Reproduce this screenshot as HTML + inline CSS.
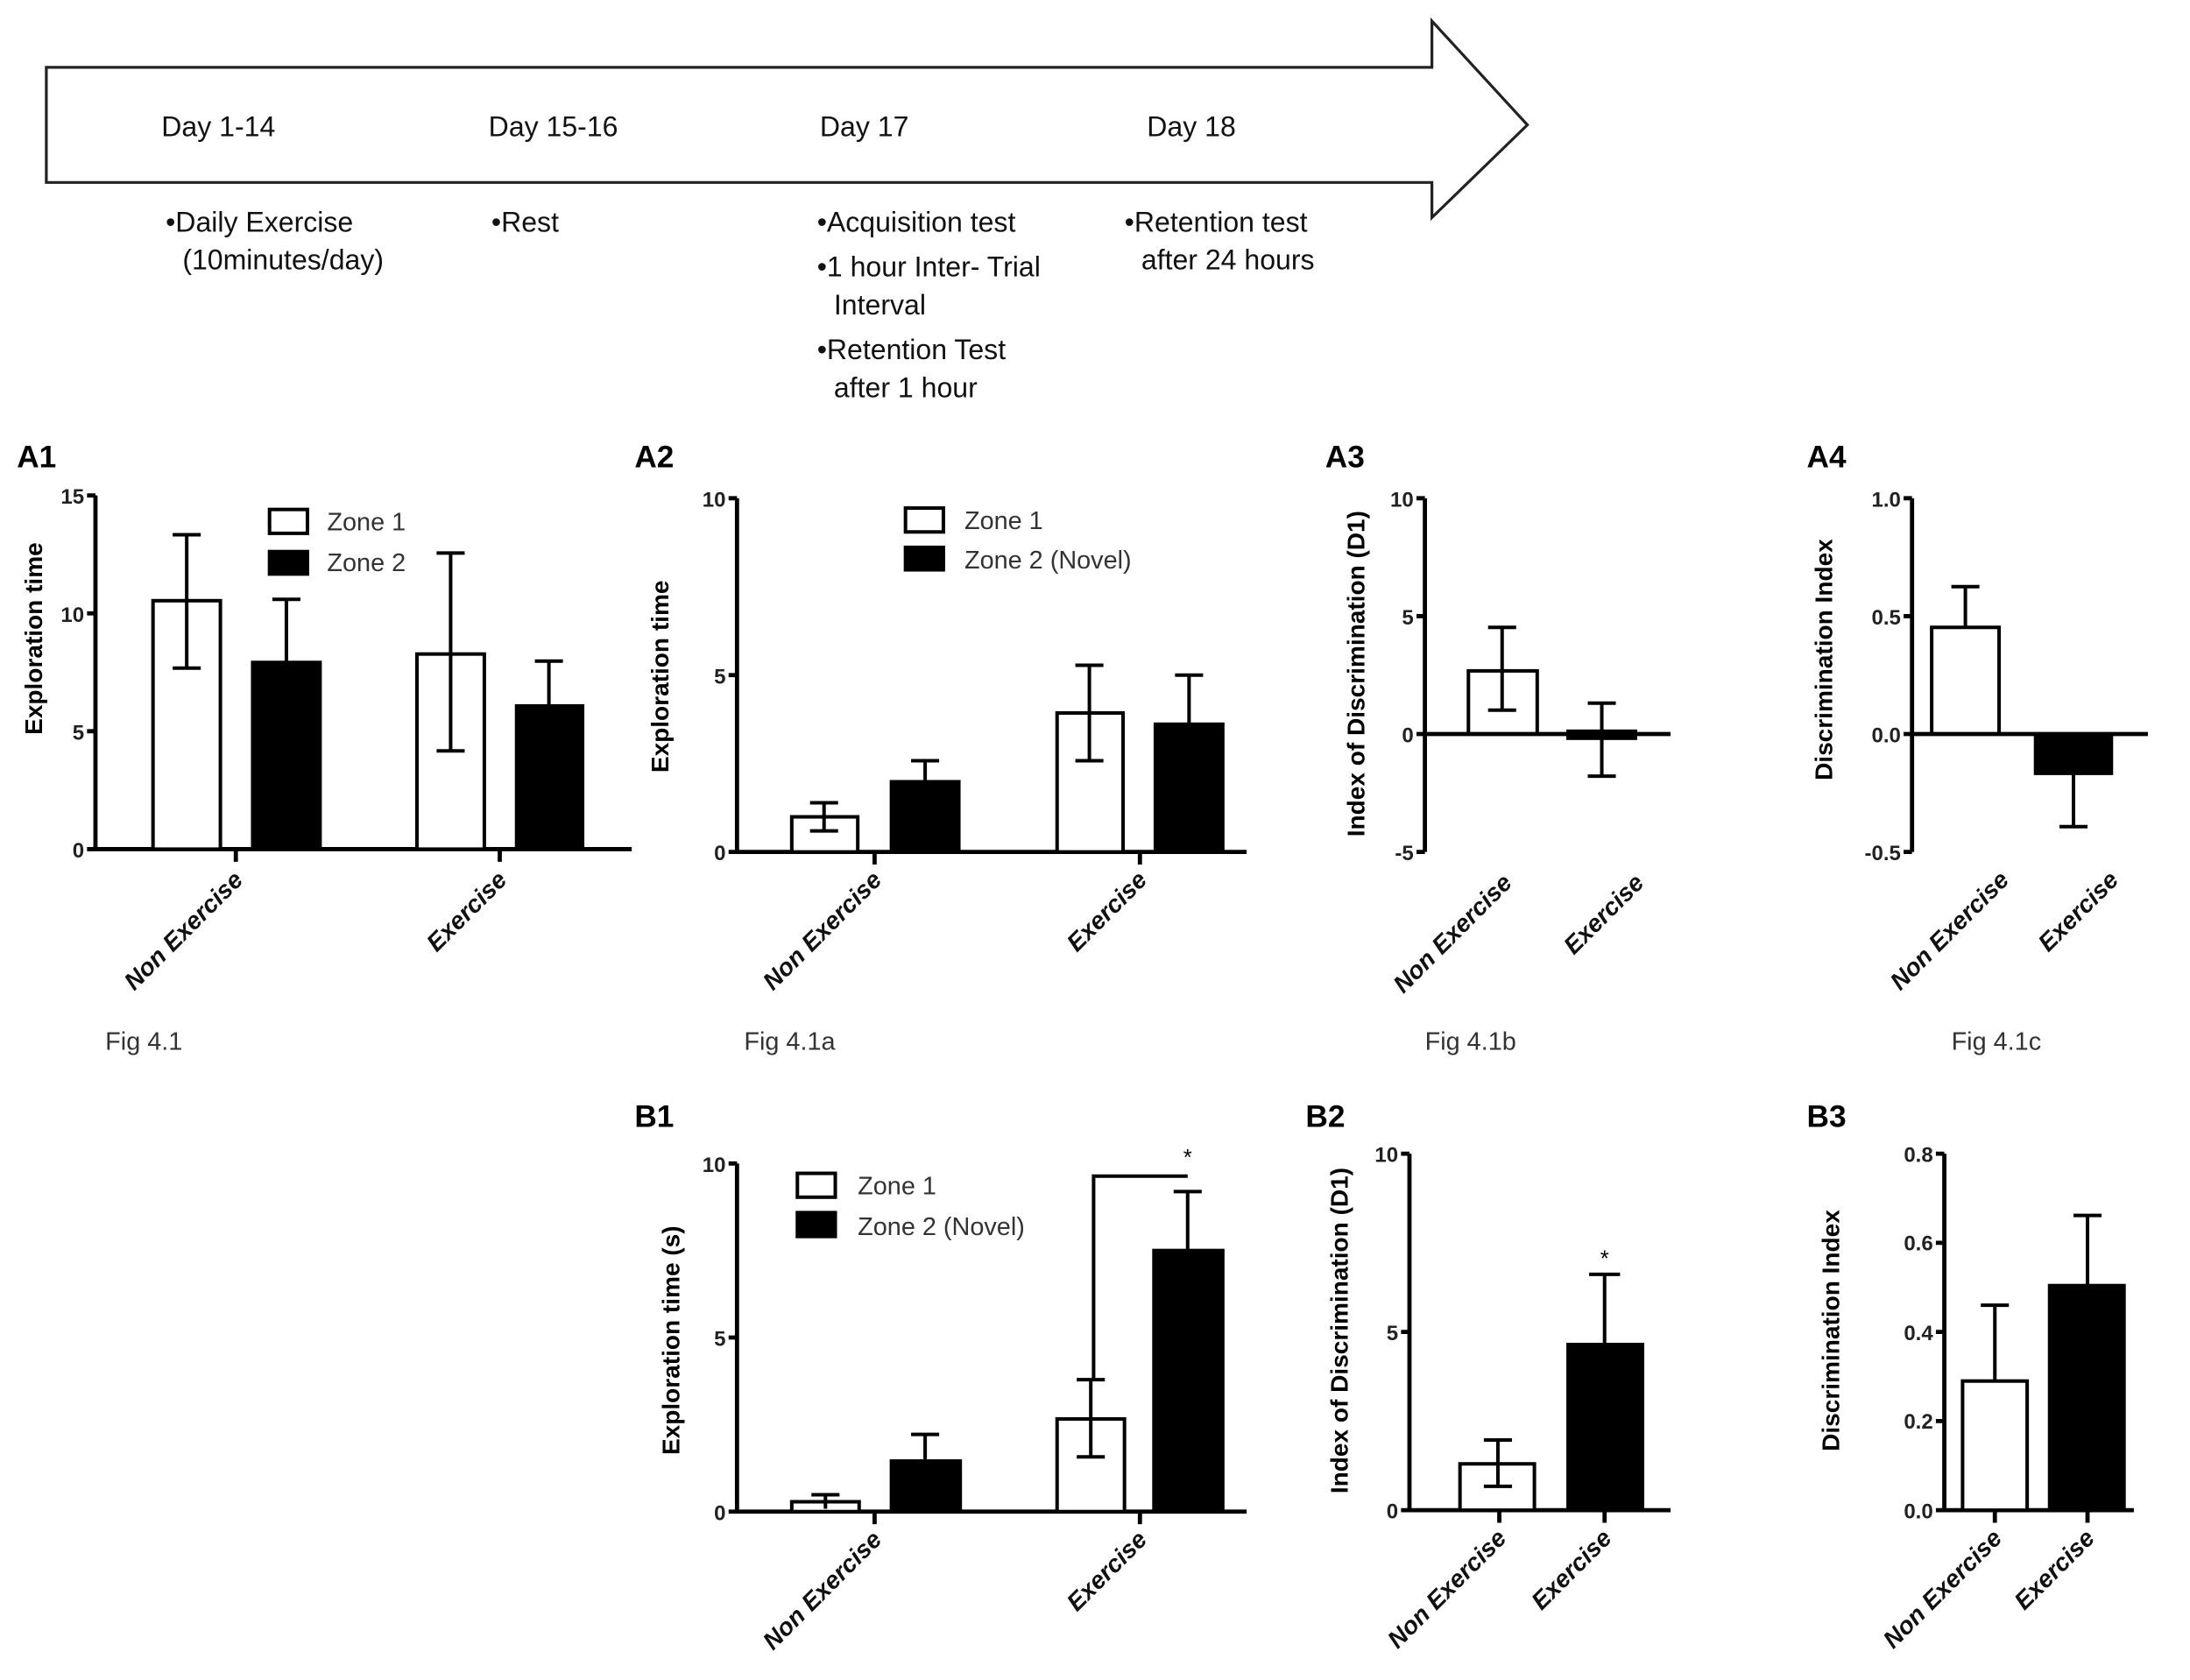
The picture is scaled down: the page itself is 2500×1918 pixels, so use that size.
<!DOCTYPE html>
<html><head><meta charset="utf-8"><style>
html,body{margin:0;padding:0;background:#fff}
svg{display:block}
text{font-family:"Liberation Sans",sans-serif}
.t{font-size:20px;fill:#111}
.pl{font-size:22px;font-weight:bold}
.tk{font-size:15px;text-anchor:end;font-weight:bold;fill:#222}
.yl{font-size:17.5px;font-weight:bold;text-anchor:middle}
.xl{font-size:17.5px;font-style:italic;font-weight:bold;text-anchor:end;fill:#111}
.lg{font-size:18px;fill:#333}
.fg{font-size:18px;fill:#333}
.ax{stroke:#000;stroke-width:3;fill:none}
.w{fill:#fff;stroke:#000;stroke-width:2.5}
.b{fill:#000;stroke:#000;stroke-width:2.5}
.e{stroke:#000;stroke-width:2.5;fill:none}
</style></head><body>
<svg width="2500" height="1918" viewBox="0 0 1560 1197" preserveAspectRatio="none">
<path d="M33 48 H1020 V15 L1088 89 L1020 155 V130 H33 Z" fill="#fff" stroke="#222" stroke-width="2"/>
<text class="t" x="115" y="97">Day 1-14</text>
<text class="t" x="348" y="97">Day 15-16</text>
<text class="t" x="584" y="97">Day 17</text>
<text class="t" x="817" y="97">Day 18</text>
<text class="t" x="118" y="165">•Daily Exercise</text>
<text class="t" x="130" y="192">(10minutes/day)</text>
<text class="t" x="350" y="165">•Rest</text>
<text class="t" x="582" y="165">•Acquisition test</text>
<text class="t" x="582" y="197">•1 hour Inter- Trial</text>
<text class="t" x="594" y="224">Interval</text>
<text class="t" x="582" y="256">•Retention Test</text>
<text class="t" x="594" y="283">after 1 hour</text>
<text class="t" x="801" y="165">•Retention test</text>
<text class="t" x="813" y="192">after 24 hours</text>

<text class="pl" x="12" y="333">A1</text>
<text class="pl" x="452" y="333">A2</text>
<text class="pl" x="944" y="333">A3</text>
<text class="pl" x="1287" y="333">A4</text>
<text class="pl" x="452" y="803">B1</text>
<text class="pl" x="930" y="803">B2</text>
<text class="pl" x="1287" y="803">B3</text>

<!-- A1 -->
<g>
<path class="ax" d="M68 353 V605 M62 353 H68 M62 437 H68 M62 521 H68 M62 605 H68 M68 605 H450 M168 605 V614 M356 605 V614"/>
<text class="tk" x="60" y="359">15</text><text class="tk" x="60" y="443">10</text><text class="tk" x="60" y="527">5</text><text class="tk" x="60" y="611">0</text>
<text class="yl" transform="translate(30,455) rotate(-90)">Exploration time</text>
<rect class="w" x="109" y="428" width="48" height="177"/>
<path class="e" d="M133 381 V476 M123 381 H143 M123 476 H143"/>
<rect class="b" x="180" y="472" width="48" height="133"/>
<path class="e" d="M204 472 V427 M194 427 H214"/>
<rect class="w" x="297" y="466" width="48" height="139"/>
<path class="e" d="M321 394 V535 M311 394 H331 M311 535 H331"/>
<rect class="b" x="368" y="503" width="47" height="102"/>
<path class="e" d="M391 503 V471 M381 471 H401"/>
<rect class="w" x="192" y="363" width="27" height="17"/><text class="lg" x="233" y="378">Zone 1</text>
<rect class="b" x="192" y="393" width="27" height="16"/><text class="lg" x="233" y="407">Zone 2</text>
<text class="xl" transform="translate(174,628) rotate(-45)">Non Exercise</text>
<text class="xl" transform="translate(362,628) rotate(-45)">Exercise</text>
<text class="fg" x="75" y="748">Fig 4.1</text>
</g>

<!-- A2 -->
<g>
<path class="ax" d="M525 355 V607 M519 355 H525 M519 481 H525 M519 607 H525 M525 607 H888 M623 607 V616 M812 607 V616"/>
<text class="tk" x="517" y="361">10</text><text class="tk" x="517" y="487">5</text><text class="tk" x="517" y="613">0</text>
<text class="yl" transform="translate(476,482) rotate(-90)">Exploration time</text>
<rect class="w" x="564" y="582" width="47" height="25"/>
<path class="e" d="M587 572 V592 M577 572 H597 M577 592 H597"/>
<rect class="b" x="635" y="557" width="48" height="50"/>
<path class="e" d="M659 557 V542 M649 542 H669"/>
<rect class="w" x="753" y="508" width="47" height="99"/>
<path class="e" d="M776 474 V542 M766 474 H786 M766 542 H786"/>
<rect class="b" x="823" y="516" width="48" height="91"/>
<path class="e" d="M847 516 V481 M837 481 H857"/>
<rect class="w" x="645" y="362" width="27" height="17"/><text class="lg" x="687" y="377">Zone 1</text>
<rect class="b" x="645" y="390" width="27" height="16"/><text class="lg" x="687" y="405">Zone 2 (Novel)</text>
<text class="xl" transform="translate(629,628) rotate(-45)">Non Exercise</text>
<text class="xl" transform="translate(818,628) rotate(-45)">Exercise</text>
<text class="fg" x="530" y="748">Fig 4.1a</text>
</g>

<!-- A3 -->
<g>
<path class="ax" d="M1015 355 V607 M1009 355 H1015 M1009 439 H1015 M1009 523 H1015 M1009 607 H1015"/>
<text class="tk" x="1007" y="361">10</text><text class="tk" x="1007" y="445">5</text><text class="tk" x="1007" y="529">0</text><text class="tk" x="1007" y="613">-5</text>
<text class="yl" transform="translate(972,480) rotate(-90)">Index of Discrimination (D1)</text>
<rect class="w" x="1046" y="478" width="49" height="45"/>
<path class="e" d="M1070 447 V506 M1060 447 H1080 M1060 506 H1080"/>
<rect class="b" x="1117" y="521" width="48" height="5"/>
<path class="e" d="M1141 501 V553 M1131 501 H1151 M1131 553 H1151"/>
<path class="ax" d="M1015 523 H1190"/>
<text class="xl" transform="translate(1078,630) rotate(-45)">Non Exercise</text>
<text class="xl" transform="translate(1172,630) rotate(-45)">Exercise</text>
<text class="fg" x="1015" y="748">Fig 4.1b</text>
</g>

<!-- A4 -->
<g>
<path class="ax" d="M1362 355 V607 M1356 355 H1362 M1356 439 H1362 M1356 523 H1362 M1356 607 H1362"/>
<text class="tk" x="1354" y="361">1.0</text><text class="tk" x="1354" y="445">0.5</text><text class="tk" x="1354" y="529">0.0</text><text class="tk" x="1354" y="613">-0.5</text>
<text class="yl" transform="translate(1305,470) rotate(-90)">Discrimination Index</text>
<rect class="w" x="1376" y="447" width="48" height="76"/>
<path class="e" d="M1400 447 V418 M1390 418 H1410"/>
<rect class="b" x="1450" y="523" width="54" height="28"/>
<path class="e" d="M1477 551 V589 M1467 589 H1487"/>
<path class="ax" d="M1362 523 H1530"/>
<text class="xl" transform="translate(1432,628) rotate(-45)">Non Exercise</text>
<text class="xl" transform="translate(1510,628) rotate(-45)">Exercise</text>
<text class="fg" x="1390" y="748">Fig 4.1c</text>
</g>

<!-- B1 -->
<g>
<path class="ax" d="M525 829 V1077 M519 829 H525 M519 953 H525 M519 1077 H525 M525 1077 H888 M623 1077 V1086 M812 1077 V1086"/>
<text class="tk" x="517" y="835">10</text><text class="tk" x="517" y="959">5</text><text class="tk" x="517" y="1083">0</text>
<text class="yl" transform="translate(484,955) rotate(-90)">Exploration time (s)</text>
<rect class="w" x="564" y="1070" width="48" height="7"/>
<path class="e" d="M588 1065 V1075 M578 1065 H598"/>
<rect class="b" x="635" y="1041" width="49" height="36"/>
<path class="e" d="M659 1041 V1022 M649 1022 H669"/>
<rect class="w" x="753" y="1011" width="48" height="66"/>
<path class="e" d="M777 983 V1038 M767 983 H787 M767 1038 H787"/>
<rect class="b" x="822" y="891" width="49" height="186"/>
<path class="e" d="M846 891 V849 M836 849 H856"/>
<path class="e" d="M779 983 V838 H846"/>
<text x="846" y="830" style="font-size:16px;text-anchor:middle">*</text>
<rect class="w" x="568" y="836" width="27" height="17"/><text class="lg" x="611" y="851">Zone 1</text>
<rect class="b" x="568" y="864" width="27" height="17"/><text class="lg" x="611" y="880">Zone 2 (Novel)</text>
<text class="xl" transform="translate(629,1098) rotate(-45)">Non Exercise</text>
<text class="xl" transform="translate(818,1098) rotate(-45)">Exercise</text>
</g>

<!-- B2 -->
<g>
<path class="ax" d="M1004 822 V1076 M998 822 H1004 M998 949 H1004 M998 1076 H1004 M1004 1076 H1190 M1068 1076 V1085 M1143 1076 V1085"/>
<text class="tk" x="996" y="828">10</text><text class="tk" x="996" y="955">5</text><text class="tk" x="996" y="1082">0</text>
<text class="yl" transform="translate(960,948) rotate(-90)">Index of Discrimination (D1)</text>
<rect class="w" x="1040" y="1043" width="53" height="33"/>
<path class="e" d="M1067 1026 V1059 M1057 1026 H1077 M1057 1059 H1077"/>
<rect class="b" x="1117" y="958" width="53" height="118"/>
<path class="e" d="M1143 958 V908 M1132 908 H1154"/>
<text x="1143" y="902" style="font-size:16px;text-anchor:middle">*</text>
<text class="xl" transform="translate(1074,1097) rotate(-45)">Non Exercise</text>
<text class="xl" transform="translate(1149,1097) rotate(-45)">Exercise</text>
</g>

<!-- B3 -->
<g>
<path class="ax" d="M1385 822 V1076 M1379 822 H1385 M1379 885.5 H1385 M1379 949 H1385 M1379 1012.5 H1385 M1379 1076 H1385 M1385 1076 H1520 M1421 1076 V1085 M1487 1076 V1085"/>
<text class="tk" x="1377" y="828">0.8</text><text class="tk" x="1377" y="891">0.6</text><text class="tk" x="1377" y="955">0.4</text><text class="tk" x="1377" y="1018">0.2</text><text class="tk" x="1377" y="1082">0.0</text>
<text class="yl" transform="translate(1310,948) rotate(-90)">Discrimination Index</text>
<rect class="w" x="1398" y="984" width="46" height="92"/>
<path class="e" d="M1421 984 V930 M1411 930 H1431"/>
<rect class="b" x="1460" y="916" width="53" height="160"/>
<path class="e" d="M1487 916 V866 M1477 866 H1497"/>
<text class="xl" transform="translate(1427,1097) rotate(-45)">Non Exercise</text>
<text class="xl" transform="translate(1493,1097) rotate(-45)">Exercise</text>
</g>
</svg>
</body></html>
